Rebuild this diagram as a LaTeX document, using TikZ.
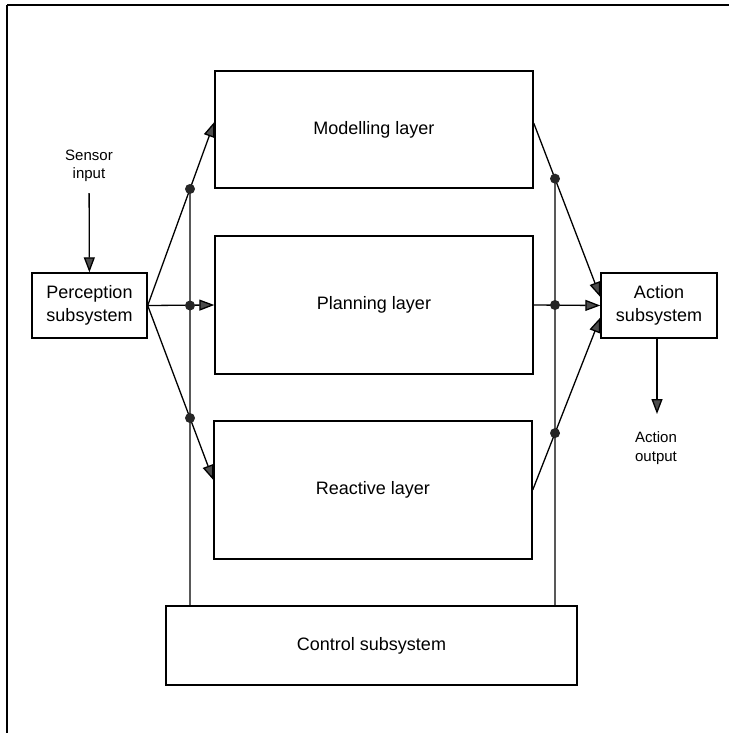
\documentclass[tikz,border=0pt]{standalone}
\usepackage{fontspec}
\setmainfont{Liberation Sans}
\usetikzlibrary{arrows.meta}
\begin{document}
\begin{tikzpicture}[x=1pt,y=-1pt,
  box/.style={draw, line width=1.4pt, inner sep=0pt,
    font=\fontsize{18}{23}\selectfont, align=center},
  lbl/.style={font=\fontsize{15}{18.5}\selectfont, align=center, inner sep=0pt},
  link/.style={line width=1.3pt},
  flow/.style={link, -{Triangle[length=15pt,width=11pt,fill=black!70]}},
  junction/.style={fill=black!85}
]
\useasboundingbox (0,0) rectangle (729,733);

% page frame (top and left rules)
\draw[line width=1.8pt] (7,5) -- (729,5);
\draw[line width=1.5pt] (7,5) -- (7,733);

% the three layers
\node[box, minimum width=318, minimum height=117] (model) at (374,129.5) {Modelling layer};
\node[box, minimum width=318, minimum height=138] (plan)  at (374,305)   {Planning layer};
\node[box, minimum width=318, minimum height=138] (react) at (373,490)   {Reactive layer};

% subsystems
\node[box, minimum width=411, minimum height=79] (control) at (371.5,645.5) {Control subsystem};
\node[box, minimum width=115, minimum height=65] (perc)    at (89.5,305.5)  {Perception\\subsystem};
\node[box, minimum width=116, minimum height=65] (action)  at (659,305.5)   {Action\\subsystem};

% external inputs / outputs
\node[lbl] (sensor) at (89,166) {Sensor\\input};
\node[lbl] (out)    at (656,448) {Action\\output};

% helper coordinates
\coordinate (lx)   at (190,0);
\coordinate (lxb)  at (190,733);
\coordinate (rx)   at (555,0);
\coordinate (rxb)  at (555,733);
\coordinate (src)  at (perc.east);
\coordinate (mIn)  at ([yshift=7.5pt]model.west);
\coordinate (rIn)  at ([yshift=10pt]react.west);
\coordinate (mOut) at ([yshift=6.5pt]model.east);
\coordinate (aTop) at ([yshift=8.5pt]action.west);
\coordinate (aBot) at ([yshift=-12pt]action.west);
\coordinate (outtip) at (657,414);

% junctions on the control buses
\coordinate (d1) at (intersection of src--mIn and lx--lxb);
\coordinate (d2) at (lx |- src);
\coordinate (d3) at (intersection of src--rIn and lx--lxb);
\coordinate (d4) at (intersection of mOut--aTop and rx--rxb);
\coordinate (d5) at (rx |- plan.east);
\coordinate (d6) at (intersection of react.east--aBot and rx--rxb);

% sensor input and action output
\draw[flow, shorten <=11pt] (sensor) -- (perc);
\draw[flow] (action.south -| outtip) -- (outtip);

% perception fans out to the layers
\draw[flow] (src) -- (mIn);
\draw[flow] (src) -- (plan.west);
\draw[flow] (src) -- (rIn);

% layers feed the action subsystem
\draw[flow] (mOut) -- (aTop);
\draw[flow] (plan.east) -- (action.west);
\draw[flow] (react.east) -- (aBot);

% control buses
\draw[link] (control.north -| lx) -- (d1);
\draw[link] (control.north -| rx) -- (d4);

\foreach \d in {d1,d2,d3,d4,d5,d6}
  \fill[junction] (\d) circle (5);
\end{tikzpicture}
\end{document}
